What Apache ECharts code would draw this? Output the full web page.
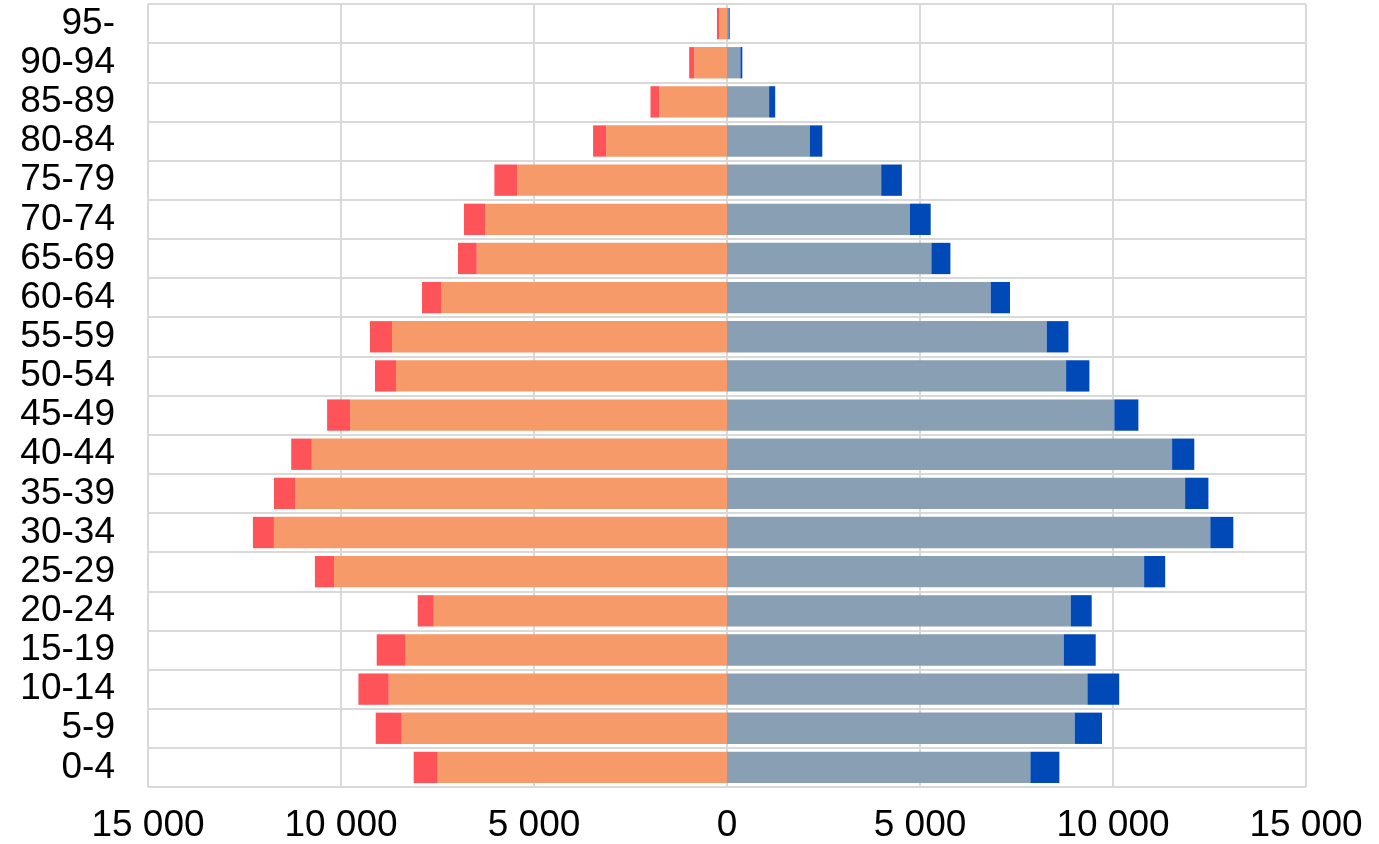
<!DOCTYPE html>
<html>
<head>
<meta charset="utf-8">
<script src="https://cdn.jsdelivr.net/npm/echarts@6/dist/echarts.min.js"></script>
<style>
html,body{margin:0;padding:0;background:#fff;}
#chart{width:1379px;height:844px;}
</style>
</head>
<body>
<div id="chart"></div>
<script>
const ageGroups = ['0-4','5-9','10-14','15-19','20-24','25-29','30-34','35-39','40-44','45-49','50-54','55-59','60-64','65-69','70-74','75-79','80-84','85-89','90-94','95-'];
const femaleMain = [7495, 8427, 8764, 8324, 7598, 10181, 11738, 11192, 10756, 9764, 8575, 8679, 7409, 6484, 6269, 5440, 3132, 1762, 850, 200];
const femaleExtra = [622, 674, 785, 751, 415, 495, 544, 544, 534, 596, 544, 570, 493, 485, 544, 586, 337, 220, 130, 60];
const maleMain = [7860, 9008, 9337, 8723, 8904, 10806, 12521, 11868, 11531, 10034, 8785, 8282, 6832, 5295, 4741, 3995, 2143, 1091, 347, 40];
const maleExtra = [751, 707, 824, 829, 544, 546, 596, 604, 575, 624, 604, 563, 500, 493, 536, 536, 326, 158, 50, 30];

const chart = echarts.init(document.getElementById('chart'));
function fmt(v){
  const a = Math.abs(Math.round(v));
  return String(a).replace(/\B(?=(\d{3})+(?!\d))/g, ' ');
}
const gap = '20%';
chart.setOption({
  animation:false,
  grid:{left:148,right:73,top:4,bottom:47,containLabel:false},
  xAxis:{
    type:'value',min:-15000,max:15000,interval:5000,
    axisLine:{show:false},axisTick:{show:false},
    axisLabel:{formatter:fmt,fontFamily:'Liberation Sans, Arial, sans-serif',fontSize:37,color:'#000',margin:20},
    splitLine:{show:true,lineStyle:{color:'#d9d9d9',width:2}}
  },
  yAxis:{
    type:'category',data:ageGroups,
    axisLine:{show:false},axisTick:{show:false,interval:0},
    axisLabel:{interval:0,fontFamily:'Liberation Sans, Arial, sans-serif',fontSize:37,color:'#000',margin:33},
    splitLine:{show:true,interval:0,lineStyle:{color:'#d9d9d9',width:2}}
  },
  series:[
    {type:'bar',stack:'f',data:femaleMain.map(v=>-v),itemStyle:{color:'#f69a6a'},barCategoryGap:gap,barGap:'-100%'},
    {type:'bar',stack:'f',data:femaleExtra.map(v=>-v),itemStyle:{color:'#ff535a'},barCategoryGap:gap,barGap:'-100%'},
    {type:'bar',stack:'m',data:maleMain,itemStyle:{color:'#89a0b4'},barCategoryGap:gap,barGap:'-100%'},
    {type:'bar',stack:'m',data:maleExtra,itemStyle:{color:'#0049b7'},barCategoryGap:gap,barGap:'-100%'}
  ]
});
</script>
</body>
</html>
